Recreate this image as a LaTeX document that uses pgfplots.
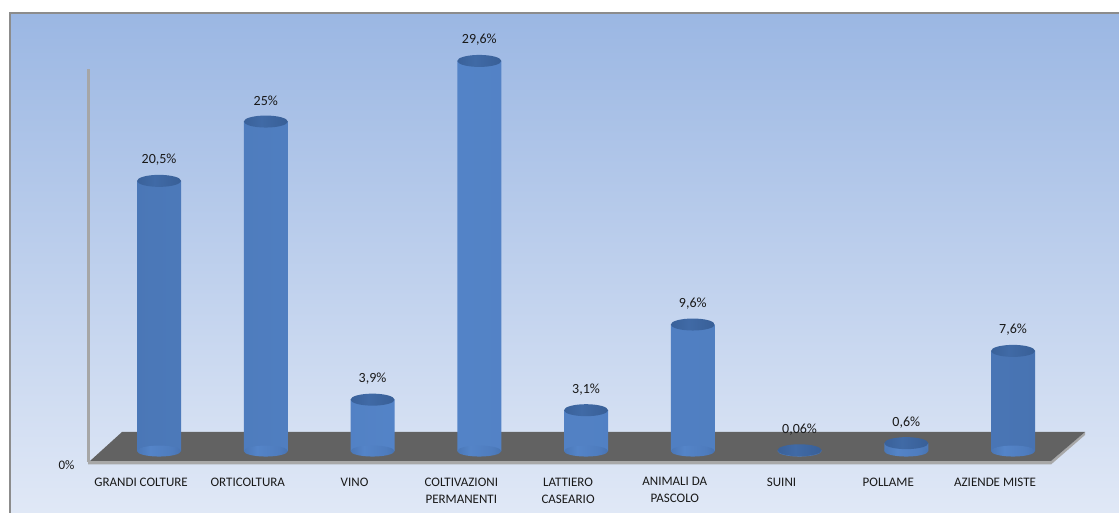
\documentclass[border=0pt]{standalone}
\usepackage{pgfplots}
\pgfplotsset{compat=1.18}
\usepackage{pgfplotstable}
\usepackage{fontspec}
\setmainfont{Carlito}
\definecolor{bgtop}{RGB}{155,183,227}
\definecolor{bgbot}{RGB}{224,232,246}
\definecolor{frame}{RGB}{140,140,140}
\definecolor{floor}{RGB}{98,98,98}
\definecolor{floorface}{RGB}{168,168,168}
\definecolor{wall}{RGB}{166,166,166}
\definecolor{c0}{RGB}{50,84,132}
\definecolor{c1}{RGB}{66,108,168}
\definecolor{c2}{RGB}{84,132,200}
\definecolor{c3}{RGB}{78,124,190}
\definecolor{c4}{RGB}{62,102,160}
\definecolor{c5}{RGB}{42,72,116}
\definecolor{t0}{RGB}{50,86,138}
\definecolor{t1}{RGB}{64,106,166}
\definecolor{t2}{RGB}{50,86,138}
\pgfdeclarehorizontalshading{cyl}{100bp}{color(0bp)=(c0); color(12bp)=(c1); color(40bp)=(c2); color(65bp)=(c3); color(90bp)=(c4); color(100bp)=(c5)}
\pgfdeclarehorizontalshading{cyltop}{100bp}{color(0bp)=(t0); color(45bp)=(t1); color(100bp)=(t2)}
\pgfdeclareplotmark{cylbase}{%
  \pgfpathellipse{\pgfpointorigin}{\pgfqpoint{22pt}{0pt}}{\pgfqpoint{0pt}{5.5pt}}%
  \pgfshadepath{cyl}{0}\pgfusepath{}}
\pgfdeclareplotmark{cyltop}{%
  \pgfpathellipse{\pgfpointorigin}{\pgfqpoint{22pt}{0pt}}{\pgfqpoint{0pt}{6pt}}%
  \pgfshadepath{cyltop}{0}\pgfusepath{}}
\pgfplotstableread{
x y z lab
0 20.5 0 20,5
1 25 0 25
2 3.9 0 3,9
3 29.6 0 29,6
4 3.1 0 3,1
5 9.6 0 9,6
6 0.06 0 0,06
7 0.6 0 0,6
8 7.6 0 7,6
}\data
\begin{document}
\begin{tikzpicture}[x=1pt,y=1pt]
\useasboundingbox (0,0) rectangle (1119,513);
\fill[white] (0,0) rectangle (1119,513);
\shade[top color=bgtop, bottom color=bgbot] (9,0) rectangle (1119,500);
\draw[frame, line width=1.5pt] (9.75,0) -- (9.75,500) -- (1119,500);
% left wall
\fill[wall] (86.5,51) rectangle (89.5,444);
% floor front face and top
\fill[floorface] (88,52) -- (1051,52) -- (1085,81) -- (1085,78) -- (1051,48.5) -- (88,48.5) -- cycle;
\fill[floor] (122,81) -- (1085,81) -- (1051,52) -- (90,52) -- cycle;
\begin{axis}[
  at={(89,47)}, anchor=south west,
  scale only axis, width=982.1pt, height=395.4pt,
  xmin=-0.6, xmax=8.6, ymin=0, ymax=30,
  enlargelimits=false, clip=false,
  axis line style={draw=none}, tick style={draw=none},
  major tick length=0pt,
  xtick={0,...,8},
  xticklabels={{GRANDI COLTURE},{ORTICOLTURA},{VINO},{COLTIVAZIONI\\PERMANENTI},{LATTIERO\\CASEARIO},{ANIMALI DA\\PASCOLO},{SUINI},{POLLAME},{AZIENDE MISTE}},
  xticklabel style={align=center, anchor=north, yshift=-23pt, xshift=-18pt, font=\fontsize{13}{17}\selectfont, text=black!90},
  ytick={0}, yticklabels={0\%},
  yticklabel style={anchor=east, xshift=-17pt, yshift=-14pt, font=\fontsize{13}{15}\selectfont, text=black!90},
]
\addplot[only marks, mark=cylbase] table[x=x, y=z] {\data};
\addplot[ybar, bar width=44pt, bar shift=0pt, draw=none, shade, shading=cyl,
  point meta=explicit symbolic,
  nodes near coords={\pgfplotspointmeta\%},
  every node near coord/.append style={anchor=center, yshift=21pt, font=\fontsize{14}{16}\selectfont, text=black!90}]
  table[x=x, y=y, meta=lab] {\data};
\addplot[only marks, mark=cyltop] table[x=x, y=y] {\data};
\end{axis}
\end{tikzpicture}
\end{document}
